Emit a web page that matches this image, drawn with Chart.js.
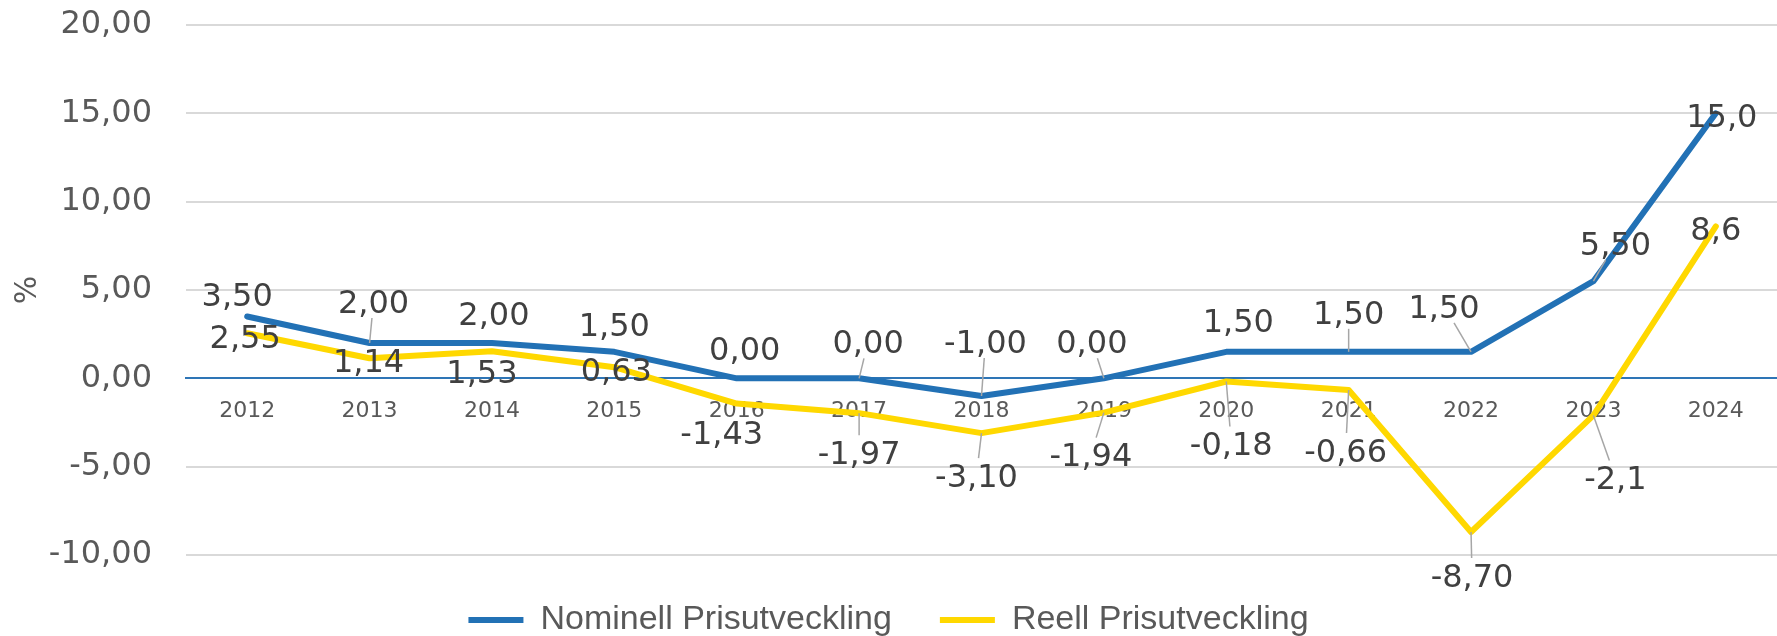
<!DOCTYPE html>
<html>
<head>
<meta charset="utf-8">
<script src="https://cdn.jsdelivr.net/npm/chart.js@4.4.0/dist/chart.umd.min.js"></script>
<style>
  html, body { margin: 0; padding: 0; background: #fff; }
  canvas { display: block; }
</style>
</head>
<body>
<canvas id="chart" width="1777" height="636"></canvas>
<script>
const years = ['2012', '2013', '2014', '2015', '2016', '2017', '2018', '2019', '2020', '2021', '2022', '2023', '2024']
const nominal = [3.50, 2.00, 2.00, 1.50, 0.00, 0.00, -1.00, 0.00, 1.50, 1.50, 1.50, 5.50, 15.0]
const real = [2.55, 1.14, 1.53, 0.63, -1.43, -1.97, -3.10, -1.94, -0.18, -0.66, -8.70, -2.1, 8.6]
const nominalDecimals = [2, 2, 2, 2, 2, 2, 2, 2, 2, 2, 2, 2, 1]
const realDecimals = [2, 2, 2, 2, 2, 2, 2, 2, 2, 2, 2, 1, 1]

// where each value label sits relative to its point (px), like the dragged labels in Excel
const nominalLabelOffsets = [[-10, -22], [4, -42], [2, -30], [0, -28], [8, -30], [9, -37], [4, -55],
  [-12, -37], [12, -32], [0, -40], [-27, -46], [22, -38], [6, 2]]
const realLabelOffsets = [[-2, 3], [-1, 2], [-10, 20], [2, 2], [-15, 29], [0, 39], [-5, 42],
  [-13, 42], [5, 62], [-3, 60], [1, 43], [22, 62], [0, 2]]

const NUM_FONT = '"DejaVu Sans"'
const fmt = (v, d) => v.toFixed(d).replace('.', ',')

const valueLabels = {
  id: 'valueLabels',
  afterDatasetsDraw(chart) {
    const ctx = chart.ctx
    const size = 32
    ctx.save()
    ctx.font = size + 'px ' + NUM_FONT
    ctx.textAlign = 'center'
    ctx.textBaseline = 'alphabetic'
    chart.data.datasets.forEach((ds, di) => {
      const meta = chart.getDatasetMeta(di)
      meta.data.forEach((pt, i) => {
        const text = fmt(ds.data[i], ds.decimals[i])
        const [dx, dy] = ds.labelOffsets[i]
        const cx = pt.x + dx
        const cy = pt.y + dy
        const hw = ctx.measureText(text).width / 2 + 3
        const hh = 17
        // leader line from the point to the edge of the label box
        const ax = Math.abs(dx), ay = Math.abs(dy)
        const s = Math.min(ax ? hw / ax : Infinity, ay ? hh / ay : Infinity)
        if (s < 1) {
          const ex = cx - s * dx, ey = cy - s * dy
          if (Math.hypot(ex - pt.x, ey - pt.y) > 18) {
            ctx.strokeStyle = '#A6A6A6'
            ctx.lineWidth = 1.5
            ctx.beginPath()
            ctx.moveTo(pt.x, pt.y)
            ctx.lineTo(ex, ey)
            ctx.stroke()
          }
        }
        ctx.fillStyle = '#404040'
        ctx.fillText(text, cx, cy + size * 0.365)
      })
    })
    ctx.restore()
  }
}

const ctx = document.getElementById('chart').getContext('2d')

new Chart(ctx, {
  type: 'line',
  data: {
    labels: years,
    datasets: [
      {
        label: 'Nominell Prisutveckling',
        data: nominal,
        decimals: nominalDecimals,
        labelOffsets: nominalLabelOffsets,
        borderColor: '#2271B5',
        backgroundColor: '#2271B5',
        borderWidth: 6,
        borderCapStyle: 'round',
        borderJoinStyle: 'round',
        pointRadius: 0,
        tension: 0
      },
      {
        label: 'Reell Prisutveckling',
        data: real,
        decimals: realDecimals,
        labelOffsets: realLabelOffsets,
        borderColor: '#FFD800',
        backgroundColor: '#FFD800',
        borderWidth: 6,
        borderCapStyle: 'round',
        borderJoinStyle: 'round',
        pointRadius: 0,
        tension: 0
      }
    ]
  },
  options: {
    responsive: false,
    animation: false,
    layout: {
      padding: { top: 25, right: 0, bottom: -11, left: 0 }
    },
    scales: {
      x: {
        type: 'category',
        offset: true,
        position: { y: 0 },
        grid: { drawOnChartArea: false, drawTicks: false },
        border: { display: true, color: '#2E75B6', width: 2 },
        ticks: {
          font: { family: NUM_FONT, size: 22 },
          color: '#595959',
          padding: 20,
          maxRotation: 0,
          autoSkip: false
        }
      },
      y: {
        min: -10,
        max: 20,
        afterFit: (scale) => {
          scale.width = 186
          scale.paddingTop = 0
          scale.paddingBottom = 0
        },
        grid: {
          color: (c) => (c.tick && c.tick.value === 0) ? 'rgba(0,0,0,0)' : '#D9D9D9',
          lineWidth: 2,
          drawTicks: false
        },
        border: { display: false },
        ticks: {
          stepSize: 5,
          font: { family: NUM_FONT, size: 32 },
          color: '#595959',
          padding: 34,
          callback: (value) => fmt(value, 2)
        },
        title: {
          display: true,
          text: '%',
          font: { family: NUM_FONT, size: 30 },
          color: '#595959',
          padding: { top: 10, bottom: 0 }
        }
      }
    },
    plugins: {
      legend: {
        position: 'bottom',
        labels: {
          usePointStyle: true,
          pointStyle: 'line',
          pointStyleWidth: 55,
          padding: 48,
          font: { family: '"Liberation Sans", Arial, sans-serif', size: 34 },
          color: '#595959'
        }
      },
      tooltip: { enabled: false }
    }
  },
  plugins: [valueLabels]
})
</script>
</body>
</html>
